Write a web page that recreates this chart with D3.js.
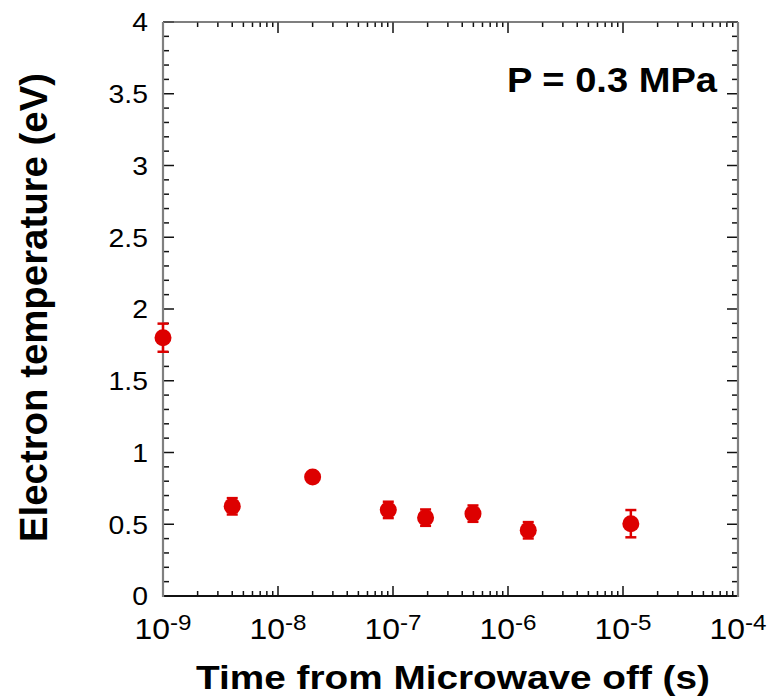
<!DOCTYPE html>
<html><head><meta charset="utf-8">
<script src="https://cdn.jsdelivr.net/npm/d3@7"></script>
<style>body{margin:0;background:#fff}svg{display:block}text{font-family:"Liberation Sans",Arial,sans-serif}</style>
</head><body><svg id="c" width="769" height="700"></svg>
<script>
const times = [1e-9, 4e-9, 2e-8, 9.1e-8, 1.92e-7, 4.96e-7, 1.5e-6, 1.17e-5];
const temps = [1.80, 0.625, 0.83, 0.60, 0.546, 0.574, 0.458, 0.504];
const errs  = [0.098, 0.057, 0.03, 0.057, 0.057, 0.057, 0.057, 0.095];
const yTicks = [0, 0.5, 1, 1.5, 2, 2.5, 3, 3.5, 4];
const yTickLabels = ["0", "0.5", "1", "1.5", "2", "2.5", "3", "3.5", "4"];
const xExps = [-9, -8, -7, -6, -5, -4];
const xLabel = "Time from Microwave off (s)";
const yLabel = "Electron temperature (eV)";
const annotation = "P = 0.3 MPa";

const L = 163, R = 738, T = 22, B = 596;
const svg = d3.select("#c");
const x = d3.scaleLog().domain([1e-9, 1e-4]).range([L, R]);
const y = d3.scaleLinear().domain([0, 4]).range([B, T]);
const red = "#dd0000";

// minor ticks
const xMinor = [];
for (let e = -9; e < -4; e++) for (let m = 2; m <= 9; m++) xMinor.push(m * Math.pow(10, e));
const yMinor = d3.range(0, 41).map(i => i / 10).filter(v => Math.abs(v * 2 - Math.round(v * 2)) > 1e-6);

const tk = svg.append("g").attr("stroke", "#111").attr("stroke-width", 1.5);
xExps.forEach(e => {
  const xv = x(Math.pow(10, e));
  tk.append("line").attr("x1", xv).attr("x2", xv).attr("y1", B).attr("y2", B - 10);
  tk.append("line").attr("x1", xv).attr("x2", xv).attr("y1", T).attr("y2", T + 11);
});
xMinor.forEach(v => {
  const xv = x(v);
  tk.append("line").attr("x1", xv).attr("x2", xv).attr("y1", B).attr("y2", B - 5);
  tk.append("line").attr("x1", xv).attr("x2", xv).attr("y1", T).attr("y2", T + 5);
});
yTicks.forEach(v => {
  const yv = y(v);
  tk.append("line").attr("x1", L).attr("x2", L + 11).attr("y1", yv).attr("y2", yv);
  tk.append("line").attr("x1", R).attr("x2", R - 11).attr("y1", yv).attr("y2", yv);
});
yMinor.forEach(v => {
  const yv = y(v);
  tk.append("line").attr("x1", L).attr("x2", L + 6).attr("y1", yv).attr("y2", yv);
  tk.append("line").attr("x1", R).attr("x2", R - 6).attr("y1", yv).attr("y2", yv);
});

// frame
svg.append("line").attr("x1", L).attr("x2", R).attr("y1", T).attr("y2", T).attr("stroke", "#555").attr("stroke-width", 1.5);
svg.append("line").attr("x1", L).attr("x2", R).attr("y1", B).attr("y2", B).attr("stroke", "#111").attr("stroke-width", 2);
svg.append("line").attr("x1", L).attr("x2", L).attr("y1", T).attr("y2", B + 1).attr("stroke", "#808080").attr("stroke-width", 2.2);
svg.append("line").attr("x1", R).attr("x2", R).attr("y1", T).attr("y2", B + 1).attr("stroke", "#808080").attr("stroke-width", 2.2);

// y tick labels (slightly stretched horizontally like the reference)
svg.append("g").selectAll("text").data(yTicks).join("text")
  .attr("transform", d => `translate(148,${y(d)}) scale(1.09,1)`).attr("dy", "0.36em")
  .attr("text-anchor", "end").attr("font-size", 26).attr("fill", "#000")
  .text((d, i) => yTickLabels[i]);

// x tick labels 10^e
xExps.forEach(e => {
  const t = svg.append("text").attr("transform", `translate(${x(Math.pow(10, e))},639) scale(1.1,1)`)
    .attr("font-size", 29).attr("fill", "#000").attr("text-anchor", "middle");
  t.append("tspan").text("10");
  t.append("tspan").attr("font-size", 22).attr("dy", -9).text("-" + Math.abs(e));
});

// data
const pts = times.map((t, i) => ({t, v: temps[i], e: errs[i]}));
const eg = svg.append("g").attr("stroke", red).attr("stroke-width", 2.5);
pts.forEach(p => {
  const xv = x(p.t);
  eg.append("line").attr("x1", xv).attr("x2", xv).attr("y1", y(p.v - p.e)).attr("y2", y(p.v + p.e));
  eg.append("line").attr("x1", xv - 5.5).attr("x2", xv + 5.5).attr("y1", y(p.v - p.e)).attr("y2", y(p.v - p.e));
  eg.append("line").attr("x1", xv - 5.5).attr("x2", xv + 5.5).attr("y1", y(p.v + p.e)).attr("y2", y(p.v + p.e));
});
svg.append("g").selectAll("circle").data(pts).join("circle")
  .attr("cx", d => x(d.t)).attr("cy", d => y(d.v)).attr("r", 8.5).attr("fill", red);

// labels
svg.append("text").attr("x", 196).attr("y", 689).attr("font-size", 34).attr("font-weight", "bold")
  .attr("textLength", 514).attr("lengthAdjust", "spacingAndGlyphs").text(xLabel);
svg.append("text").attr("transform", "translate(46.5,542) rotate(-90)").attr("font-size", 38).attr("font-weight", "bold")
  .attr("textLength", 469).attr("lengthAdjust", "spacingAndGlyphs").text(yLabel);
svg.append("text").attr("x", 507).attr("y", 92).attr("font-size", 35).attr("font-weight", "bold")
  .attr("textLength", 210).attr("lengthAdjust", "spacingAndGlyphs").text(annotation);
</script></body></html>
